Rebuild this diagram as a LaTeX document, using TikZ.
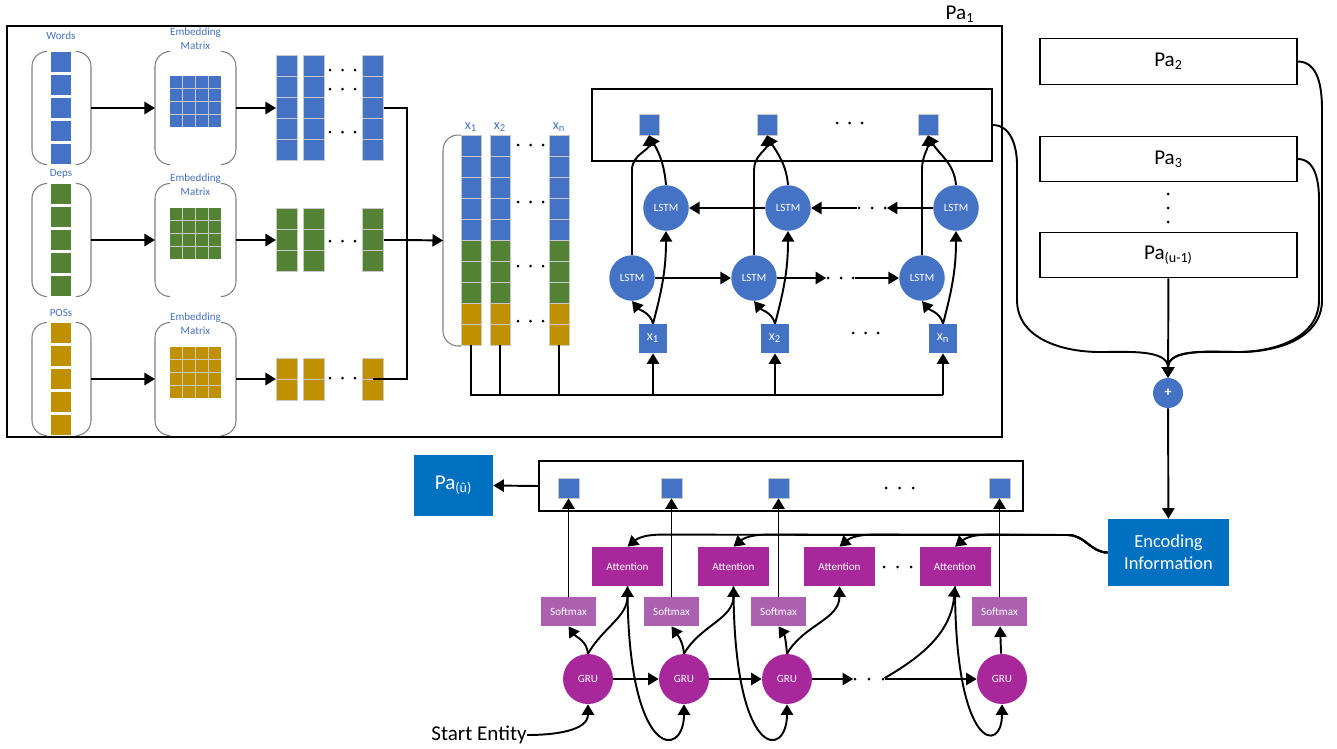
\documentclass[tikz,border=0pt]{standalone}
\usepackage{fontspec}
\setmainfont{Carlito}
\usetikzlibrary{arrows.meta,positioning,calc}
\definecolor{cellblue}{HTML}{4472C4}
\definecolor{cellgreen}{HTML}{548235}
\definecolor{cellgold}{HTML}{BF9000}
\definecolor{deepblue}{HTML}{0070C0}
\definecolor{attpurple}{HTML}{A8289C}
\definecolor{softpurple}{HTML}{AC60B0}
\definecolor{cellline}{HTML}{C8C8C8}
\definecolor{bracketgray}{HTML}{808080}

\begin{document}
\begin{tikzpicture}[x=0.02cm,y=-0.02cm,
  arr/.style={-{Triangle[length=6pt,width=7pt]},line width=1.1pt},
  ln/.style={line width=1.1pt},
  boxline/.style={draw,line width=0.8pt,inner sep=0pt},
  brk/.style={draw=bracketgray,line width=0.6pt,rounded corners=0.3cm},
  hold/.style={inner sep=0pt,outer sep=0pt},
  incell/.style={fill=#1,inner sep=0pt,minimum width=0.4cm,minimum height=0.41cm},
  outcell/.style={fill=#1,draw=cellline,line width=0.4pt,inner sep=0pt,minimum width=0.42cm,minimum height=0.42cm},
  stkcell/.style={fill=#1,draw=cellline,line width=0.4pt,inner sep=0pt,minimum width=0.4cm,minimum height=0.42cm},
  small/.style={font=\fontsize{6.3}{7.8}\selectfont},
  lbl/.style={small,text=cellblue,align=center,inner sep=0pt},
  dotnode/.style={circle,fill,inner sep=0pt,minimum size=0.06cm},
  lstm/.style={circle,fill=cellblue,text=white,small,inner sep=0pt,minimum size=0.91cm},
  outsq/.style={fill=cellblue,draw=cellline,line width=0.4pt,inner sep=0pt,minimum width=0.4cm,minimum height=0.42cm},
  xbox/.style={fill=cellblue,text=white,font=\fontsize{8}{9}\selectfont,inner sep=0pt,minimum width=0.56cm,minimum height=0.58cm},
  pabox/.style={draw,line width=0.8pt,font=\fontsize{12}{14}\selectfont,inner sep=0pt,minimum width=5.14cm,minimum height=0.91cm},
  bluebox/.style={fill=deepblue,text=white,inner sep=0pt,align=center},
  att/.style={fill=attpurple,text=white,small,inner sep=0pt,minimum width=1.42cm,minimum height=0.78cm},
  smax/.style={fill=softpurple,text=white,small,inner sep=0pt,minimum width=1.1cm,minimum height=0.58cm},
  gru/.style={circle,fill=attpurple,text=white,small,inner sep=0pt,minimum size=1cm}]
 % \draw[help lines] (0,0) grid (1337,748);
  \useasboundingbox (0,0) rectangle (1337,748);

  % encoder for Pa_1
  \node[boxline,minimum width=19.9cm,minimum height=8.22cm] (pa1) at (504.5,231.5) {};
  \node[font=\fontsize{12}{14}\selectfont,inner sep=0pt] (palbl) at (960,14) {Pa\textsubscript{1}};

  \foreach \rw/\lab/\rowcol/\yc/\nc/\ly/\ey in {w/Words/cellblue/108/5/36/39, d/Deps/cellgreen/240/3/174/185, p/POSs/cellgold/379/2/313/324}{
    \node[lbl] (lab-\rw) at (61,\ly) {\lab};
    \node[hold,minimum width=1.18cm,minimum height=2.26cm] (br-\rw) at (61.5,\yc) {};
    \draw[brk] ($(br-\rw.north west)+(15,0)$) -- (br-\rw.north west) -- (br-\rw.south west) -- ($(br-\rw.south west)+(15,0)$);
    \draw[brk] ($(br-\rw.north east)+(-15,0)$) -- (br-\rw.north east) -- (br-\rw.south east) -- ($(br-\rw.south east)+(-15,0)$);
    \foreach \i in {0,...,4}
      \node[incell=\rowcol] (in\i-\rw) at (61,\yc-46+23*\i) {};
    \node[hold,minimum width=1.62cm,minimum height=2.26cm] (ebr-\rw) at (195.5,\yc) {};
    \draw[brk] ($(ebr-\rw.north west)+(15,0)$) -- (ebr-\rw.north west) -- (ebr-\rw.south west) -- ($(ebr-\rw.south west)+(15,0)$);
    \draw[brk] ($(ebr-\rw.north east)+(-15,0)$) -- (ebr-\rw.north east) -- (ebr-\rw.south east) -- ($(ebr-\rw.south east)+(-15,0)$);
    \node[hold,fill=\rowcol,minimum size=1.02cm] (mat-\rw) at (195.5,\yc-6.5) {};
    \foreach \g in {1,2,3}{
      \draw[cellline,line width=0.5pt] ($(mat-\rw.north west)+(12.75*\g,0)$) -- ($(mat-\rw.south west)+(12.75*\g,0)$);
      \draw[cellline,line width=0.5pt] ($(mat-\rw.north west)+(0,12.75*\g)$) -- ($(mat-\rw.north east)+(0,12.75*\g)$);
    }
    \node[lbl] (elab-\rw) at (195.5,\ey) {Embedding\\Matrix};
    \foreach \x/\k in {286.5/1,313.5/2,373/3}{
      \node[hold,minimum width=0.42cm,minimum height=\nc*0.42cm] (c\k-\rw) at (\x,\yc) {};
      \foreach \j in {1,...,\nc}
        \node[outcell=\rowcol] (c\k\j-\rw) at (\x,\yc-10.5*\nc+21*\j-10.5) {};
    }
    \draw[arr] (br-\rw) -- (ebr-\rw);
    \draw[arr] (ebr-\rw) -- (c1-\rw);
  }
  \foreach \y in {70,89,132,241,378}
    \foreach \x in {330,342.5,355}
      \fill (\x,\y) circle[radius=0.03cm];

  % stacked input vectors
  \node[hold,minimum width=2.52cm,minimum height=4.22cm] (stk) at (506,240.5) {};
  \draw[brk] ($(stk.north west)+(18,0)$) -- (stk.north west) -- (stk.south west) -- ($(stk.south west)+(18,0)$);
  \foreach \x/\k/\xs in {471/1/1,500/2/2,559/3/n}{
    \node[hold,minimum width=0.4cm,minimum height=4.2cm] (s\k) at (\x,240) {};
    \foreach \j/\rowcol in {0/cellblue,1/cellblue,2/cellblue,3/cellblue,4/cellblue,5/cellgreen,6/cellgreen,7/cellgreen,8/cellgold,9/cellgold}
      \node[stkcell=\rowcol] (s\k-\j) at (\x,145.5+21*\j) {};
    \node[lbl,font=\fontsize{8}{9}\selectfont] (xl\k) at (\x,127) {x\textsubscript{\xs}};
  }
  \foreach \y in {145,202,266,321}
    \foreach \x in {518,530.5,543}
      \fill (\x,\y) circle[radius=0.03cm];

  \coordinate (jn) at (407,240);
  \draw[ln] (c3-p.center) -| (jn) |- (c3-w.east);
  \draw[ln] (c3-d.east) -- (jn);
  \draw[arr] (jn) -- (stk.west);

  % BiLSTM
  \node[boxline,minimum width=8cm,minimum height=1.44cm] (lbox) at (792,125) {};
  \foreach \k/\ox/\fx/\bx/\xx/\xs in {1/649/632/666/653/1, 2/767/754/788/775/2, 3/928/922/956/943/n}{
    \node[outsq] (o\k) at (\ox,124.5) {};
    \node[lstm] (f\k) at (\fx,278) {LSTM};
    \node[lstm] (b\k) at (\bx,208) {LSTM};
    \node[xbox] (xb\k) at (\xx,338.5) {x\textsubscript{\xs}};
    \draw[arr] (xb\k.north) to[out=105,in=-50] (f\k.south);
    \draw[arr] (xb\k.north) to[out=75,in=-90] (b\k.south);
    \draw[arr] (f\k.north) -- ++(0,-85) to[out=90,in=-90] (o\k.south);
    \draw[arr] (b\k.north) to[out=95,in=-60] (o\k.south);
  }
  \foreach \x/\i in {837/1,849.5/2,862/3}
    \node[dotnode] (od\i) at (\x,123) {};
  \foreach \x/\i in {853/1,865.5/2,878/3}
    \node[dotnode] (xd\i) at (\x,333) {};
  \node[dotnode] (fd1) at (828,278) {};
  \node[dotnode] (fd2) at (841,278) {};
  \node[dotnode] (fd3) at (853,278) {};
  \node[dotnode] (bd1) at (885,208) {};
  \node[dotnode] (bd2) at (872,208) {};
  \node[dotnode] (bd3) at (859,208) {};
  \draw[arr] (f1) -- (f2);
  \draw[arr] (f2) -- (fd1);
  \draw[arr] (fd3) -- (f3);
  \draw[arr] (b3) -- (bd1);
  \draw[arr] (bd3) -- (b2);
  \draw[arr] (b2) -- (b1);

  \coordinate (bus) at (0,395);
  \draw[ln] (s1.south) |- (xb3.south |- bus);
  \draw[ln] (s2.south) -- (s2.south |- bus);
  \draw[ln] (s3.south) -- (s3.south |- bus);
  \foreach \k in {1,2,3}
    \draw[arr] (xb\k.south |- bus) -- (xb\k.south);

  % other Pa encoders
  \node[pabox] (pa2) at (1168.5,61.5) {Pa\textsubscript{2}};
  \node[pabox] (pa3) at (1168.5,159) {Pa\textsubscript{3}};
  \node[pabox] (pau) at (1168.5,255) {Pa\textsubscript{(u-1)}};
  \foreach \y/\i in {194/1,208/2,222/3}
    \node[dotnode] (vd\i) at (1168,\y) {};
  \node[circle,fill=cellblue,text=white,inner sep=0pt,minimum size=0.6cm,font=\fontsize{8}{9}\selectfont\bfseries] (plus) at (1168,393) {+};
  \node[bluebox,minimum width=2.42cm,minimum height=1.34cm,font=\fontsize{10.5}{12.5}\selectfont] (enc) at (1168.5,552.5) {Encoding\\Information};

  \draw[arr] (lbox.east) to[out=0,in=90] (1017,165) -- (1017,300) to[out=-90,in=180] (1100,352) to[out=0,in=90] (plus.north);
  \draw[arr] (pa2.east) to[out=0,in=90] (1322,110) -- (1322,300) to[out=-90,in=0] (1240,352) to[out=180,in=90] (plus.north);
  \draw[arr] (pa3.east) to[out=0,in=90] (1319,200) -- (1319,300) to[out=-90,in=0] (1237,352) to[out=180,in=90] (plus.north);
  \draw[arr] (pau) -- (plus);
  \draw[arr] (plus) -- (enc);

  % GRU decoder
  \node[boxline,minimum width=9.68cm,minimum height=1cm] (dbox) at (781,486) {};
  \node[bluebox,minimum width=1.58cm,minimum height=1.22cm,font=\fontsize{12}{14}\selectfont] (pahat) at (453.5,485.5) {Pa\textsubscript{(û)}};
  \draw[arr] (dbox.west) -- (pahat.east);
  \foreach \k/\qx/\ax/\gx in {1/568.5/627.5/588, 2/671.5/733.5/684, 3/778.5/839.5/787, 4/999.5/955/1002}{
    \node[outsq,minimum width=0.42cm,minimum height=0.4cm] (q\k) at (\qx,488) {};
    \node[smax] (sm\k) at (\qx,611.5) {Softmax};
    \node[att] (at\k) at (\ax,566.5) {Attention};
    \node[gru] (g\k) at (\gx,679) {GRU};
    \draw[arr] (sm\k) -- (q\k);
    \draw[arr] (enc.west) to[out=180,in=0] (1068,535) -- ($(at\k.north)+(32,-12)$) to[out=180,in=40] (at\k.north);
  }
  \foreach \x/\i in {886/1,899.5/2,913/3}
    \node[dotnode] (qd\i) at (\x,488) {};
  \foreach \x/\i in {884/1,897.5/2,911/3}
    \node[dotnode] (ad\i) at (\x,567) {};
  \node[dotnode] (gd1) at (855,679) {};
  \node[dotnode] (gd2) at (869,679) {};
  \node[dotnode] (gd3) at (883,679) {};
  \foreach \k in {1,2,3}{
    \draw[arr] (g\k.north) to[out=95,in=-55] (sm\k.south);
    \draw[arr] (g\k.north) to[out=60,in=-90] (at\k.south);
  }
  \draw[arr] (g4) -- (sm4);
  \draw[arr] (g1) -- (g2);
  \draw[arr] (g2) -- (g3);
  \draw[arr] (g3) -- (gd1);
  \draw[arr] (gd3) -- (g4);
  \draw[arr] (gd3) to[out=30,in=-95] (at4.south);
  \draw[arr] (at1.south) .. controls +(0,175) and +(0,55) .. (g2.south);
  \draw[arr] (at2.south) .. controls +(0,175) and +(0,55) .. (g3.south);
  \draw[arr] (at4.south) .. controls +(0,165) and +(0,50) .. (g4.south);
  \node[font=\fontsize{12}{14}\selectfont,inner sep=0pt] (start) at (479,735) {Start Entity};
  \draw[arr] (start.east) to[out=0,in=-90] (g1.south);
\end{tikzpicture}
\end{document}
